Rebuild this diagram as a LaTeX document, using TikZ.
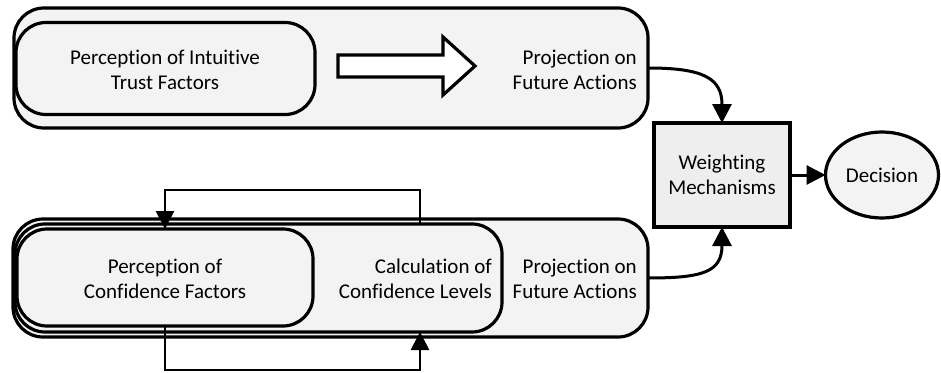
\documentclass[tikz,border=0pt]{standalone}
\usepackage{fontspec}
\setmainfont{Carlito}[Ligatures={NoCommon,NoContextual}, RawFeature={-liga,-clig,-calt,-dlig}]
\usetikzlibrary{arrows.meta,shapes.geometric}

\definecolor{panel}{HTML}{F3F3F3}
\definecolor{boxfill}{HTML}{EEEEEE}

\tikzset{
  stage/.style={draw=black, line width=3.2pt, rounded corners=30pt, fill=panel,
                inner sep=0pt, outer sep=0pt},
  lbl/.style={font=\fontsize{21}{25}\selectfont, inner sep=0pt},
  link/.style={line width=3pt, draw=black,
               -{Triangle[length=19pt,width=19pt]}},
  loopline/.style={line width=2.8pt, draw=black,
               -{Triangle[length=18pt,width=18pt]}},
}

\begin{document}
\begin{tikzpicture}[x=1pt,y=-1pt]
\useasboundingbox (0,0) rectangle (941,372);

% intuitive trust branch
\node[stage, minimum width=634pt, minimum height=120pt] (tproj) at (331,68) {};
\node[stage, minimum width=299pt, minimum height=92pt] (tperc) at (165.5,68.5) {};
\node[lbl, align=center] (tpercT) at (165,70) {Perception of Intuitive\\Trust Factors};
\node[lbl, align=right, anchor=east] (tprojT) at (637,70) {Projection on\\Future Actions};

% hollow block arrow between perception and projection
\draw[line width=3.2pt, fill=white, line join=miter]
  (338,55) -- (443,55) -- (443,37) -- (475,66) -- (443,95) -- (443,77) -- (338,77) -- cycle;

% confidence branch (stacked stages)
\node[stage, minimum width=635pt, minimum height=118pt] (bproj) at (330.5,278) {};
\node[stage, minimum width=487pt, minimum height=108pt] (bcalc) at (258.5,278) {};
\node[stage, minimum width=296pt, minimum height=97pt] (bperc) at (165,277.5) {};
\node[lbl, align=center] (bpercT) at (165,279) {Perception of\\Confidence Factors};
\node[lbl, align=right, anchor=east] (bcalcT) at (492,279) {Calculation of\\Confidence Levels};
\node[lbl, align=right, anchor=east] (bprojT) at (637,279) {Projection on\\Future Actions};

% weighting and decision
\node[draw=black, line width=3.2pt, fill=boxfill, minimum width=136pt, minimum height=104pt,
      inner sep=0pt, outer sep=0pt, lbl, align=center] (wm) at (722,175) {Weighting\\Mechanisms};
\node[ellipse, draw=black, line width=3.2pt, fill=panel, minimum width=113pt, minimum height=86pt,
      inner sep=0pt, outer sep=0pt, lbl] (dec) at (882,175) {Decision};

% connectors
\draw[link] (tproj.east) .. controls +(55,0) and +(0,-45) .. (wm.north);
\draw[link] (bproj.east) .. controls +(55,0) and +(0,45) .. (wm.south);
\draw[link] (wm.east) -- (dec.west);

% feedback loop between perception and calculation
\coordinate (lt) at (165,190);
\coordinate (rt) at (420,190);
\coordinate (lb) at (165,370);
\coordinate (rb) at (420,370);
\draw[loopline] (bcalc.north -| rt) -- (rt) -- (lt) -- (bperc.north -| lt);
\draw[loopline] (bperc.south -| lb) -- (lb) -- (rb) -- (bcalc.south -| rb);
\end{tikzpicture}
\end{document}
